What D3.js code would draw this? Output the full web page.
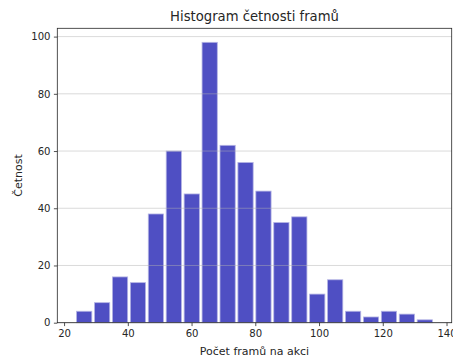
<!DOCTYPE html>
<html><head><meta charset="utf-8">
<script src="https://cdn.jsdelivr.net/npm/d3@7"></script>
<style>body{margin:0;background:#fff}svg{display:block}text{font-family:"DejaVu Sans",sans-serif;fill:#262626}</style>
</head><body>
<script>
const title = "Histogram četnosti framů";
const xLabel = "Počet framů na akci";
const yLabel = "Četnost";
const binStart = 23.5;
const binWidth = 5.625;
const counts = [4, 7, 16, 14, 38, 60, 45, 98, 62, 56, 46, 35, 37, 10, 15, 4, 2, 4, 3, 1];
const xTicks = [20, 40, 60, 80, 100, 120, 140];
const yTicks = [0, 20, 40, 60, 80, 100];

const W = 453, H = 358;
const m = {left: 57.3, right: 1.3, top: 28.3, bottom: 35.3};
const bins = counts.map((c, i) => ({x0: binStart + i * binWidth, x1: binStart + (i + 1) * binWidth, c}));
const lo = binStart, hi = binStart + counts.length * binWidth;
const pad = (hi - lo) * 0.05;
const x = d3.scaleLinear().domain([lo - pad, hi + pad]).range([m.left, W - m.right]);
const ymax = d3.max(counts) * 1.05;
const y = d3.scaleLinear().domain([0, ymax]).range([H - m.bottom, m.top]);

const svg = d3.select("body").append("svg").attr("width", W).attr("height", H);

// bars
const rw = 0.85;
svg.append("g").selectAll("rect").data(bins).join("rect")
  .attr("x", d => x(d.x0 + binWidth * (1 - rw) / 2))
  .attr("width", d => x(d.x0 + binWidth * rw) - x(d.x0))
  .attr("y", d => y(d.c))
  .attr("height", d => y(0) - y(d.c))
  .attr("fill", "#4f4fc3")
  .attr("stroke", "#b4b4e4")
  .attr("stroke-width", 0.8);

// grid (on top, translucent)
svg.append("g").selectAll("line").data(yTicks).join("line")
  .attr("x1", m.left).attr("x2", W - m.right)
  .attr("y1", d => y(d)).attr("y2", d => y(d))
  .attr("stroke", "#b0b0b0").attr("stroke-opacity", 0.6).attr("stroke-width", 0.8);

// axes
const xAxis = svg.append("g").attr("transform", `translate(0,${H - m.bottom})`)
  .call(d3.axisBottom(x).tickValues(xTicks).tickSize(3.4).tickPadding(3.4).tickFormat(d3.format("d")));
const yAxis = svg.append("g").attr("transform", `translate(${m.left},0)`)
  .call(d3.axisLeft(y).tickValues(yTicks).tickSize(3.4).tickPadding(3.4).tickFormat(d3.format("d")));
[xAxis, yAxis].forEach(g => {
  g.select(".domain").remove();
  g.selectAll("line").attr("stroke", "#262626").attr("stroke-width", 0.8);
  g.selectAll("text").attr("font-size", "10.1px").attr("fill", "#262626").style("font-family", "DejaVu Sans");
});

// spines
svg.append("rect").attr("x", m.left).attr("y", m.top)
  .attr("width", W - m.right - m.left).attr("height", H - m.bottom - m.top)
  .attr("fill", "none").attr("stroke", "#262626").attr("stroke-width", 0.8);

svg.append("text").attr("x", (m.left + W - m.right) / 2).attr("y", 21)
  .attr("text-anchor", "middle").attr("font-size", "13.2px").text(title);
svg.append("text").attr("x", (m.left + W - m.right) / 2).attr("y", 355)
  .attr("text-anchor", "middle").attr("font-size", "11px").text(xLabel);
svg.append("text").attr("transform", `translate(22,${(m.top + H - m.bottom) / 2}) rotate(-90)`)
  .attr("text-anchor", "middle").attr("font-size", "11px").text(yLabel);
</script>
</body></html>
